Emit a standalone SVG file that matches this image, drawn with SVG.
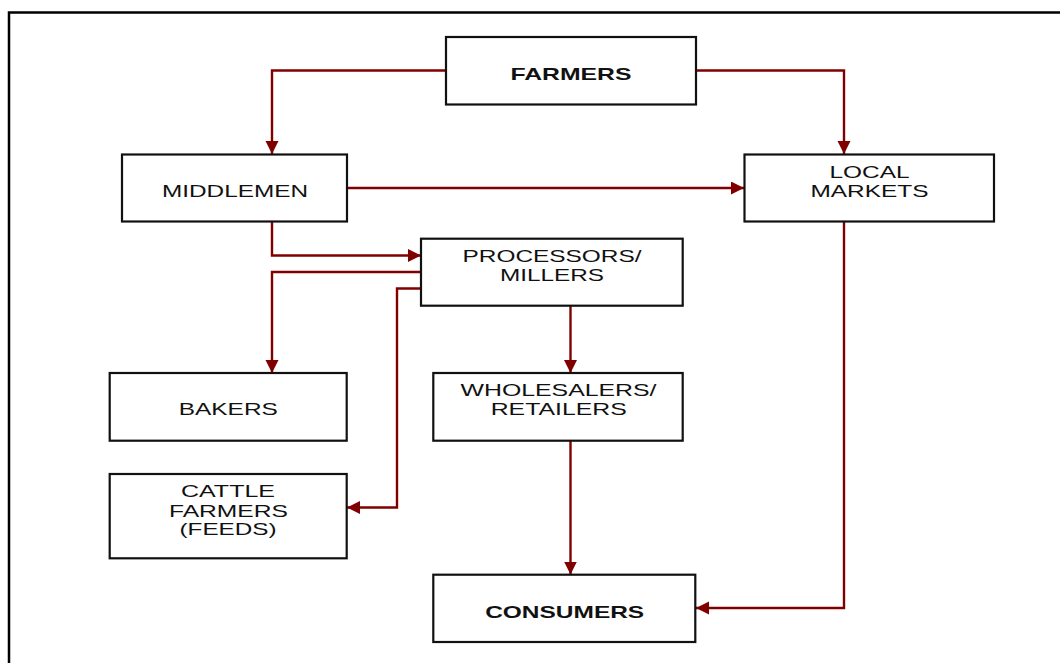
<svg xmlns="http://www.w3.org/2000/svg" width="1060" height="663" viewBox="0 0 1060 663">
  <style>
    .box { fill: #ffffff; stroke: #111111; stroke-width: 2.2; }
    .lbl { font-family: "Liberation Sans", Arial, sans-serif; font-size: 17px; fill: #111111; text-anchor: middle; }
    .bold { font-weight: bold; }
    .flow { fill: none; stroke: #800000; stroke-width: 2.4; stroke-linejoin: miter; }
    .frame { fill: none; stroke: #000000; stroke-width: 2.5; }
  </style>
  <defs>
    <marker id="arrow" markerUnits="userSpaceOnUse" markerWidth="14" markerHeight="14" refX="13" refY="6.5" orient="auto">
      <path d="M0,0 L13,6.5 L0,13 z" fill="#800000"/>
    </marker>
  </defs>

  <rect width="1060" height="663" fill="#ffffff"/>
  <!-- page frame: only the top and left edges fall inside the canvas -->
  <path class="frame" d="M9,663 V12.5 H1060"/>

  <!-- flow lines -->
  <g id="connectors">
    <path class="flow" d="M446,70.5 H272 V154" marker-end="url(#arrow)"/>
    <path class="flow" d="M696,70.5 H844 V154" marker-end="url(#arrow)"/>
    <path class="flow" d="M347,188 H744" stroke-width="2" marker-end="url(#arrow)"/>
    <path class="flow" d="M272,221 V255.5 H421" marker-end="url(#arrow)"/>
    <path class="flow" d="M421,272 H272 V373" marker-end="url(#arrow)"/>
    <path class="flow" d="M421,288.5 H397 V507.5 H347" marker-end="url(#arrow)"/>
    <path class="flow" d="M570.5,306 V373" marker-end="url(#arrow)"/>
    <path class="flow" d="M570.5,441 V574.5" marker-end="url(#arrow)"/>
    <path class="flow" d="M844,221 V608 H696" marker-end="url(#arrow)"/>
  </g>

  <g id="farmers">
    <rect class="box" x="446" y="37" width="250" height="67.5"/>
    <text class="lbl bold" x="571" y="80" textLength="121" lengthAdjust="spacingAndGlyphs">FARMERS</text>
  </g>

  <g id="middlemen">
    <rect class="box" x="122" y="154.5" width="225" height="67"/>
    <text class="lbl" x="235" y="197.3" textLength="146" lengthAdjust="spacingAndGlyphs">MIDDLEMEN</text>
  </g>

  <g id="local-markets">
    <rect class="box" x="744.5" y="154.5" width="249.5" height="67"/>
    <text class="lbl" x="869.5" y="178.3" textLength="80" lengthAdjust="spacingAndGlyphs">LOCAL</text>
    <text class="lbl" x="869.5" y="196.7" textLength="118" lengthAdjust="spacingAndGlyphs">MARKETS</text>
  </g>

  <g id="processors">
    <rect class="box" x="421" y="238.7" width="261.7" height="67"/>
    <text class="lbl" x="552" y="261.7" textLength="179" lengthAdjust="spacingAndGlyphs">PROCESSORS/</text>
    <text class="lbl" x="552" y="280.7" textLength="104" lengthAdjust="spacingAndGlyphs">MILLERS</text>
  </g>

  <g id="bakers">
    <rect class="box" x="109.7" y="373" width="237" height="67.7"/>
    <text class="lbl" x="228.3" y="415" textLength="99" lengthAdjust="spacingAndGlyphs">BAKERS</text>
  </g>

  <g id="wholesalers">
    <rect class="box" x="433.3" y="373" width="249.4" height="67.7"/>
    <text class="lbl" x="558.5" y="396.3" textLength="196" lengthAdjust="spacingAndGlyphs">WHOLESALERS/</text>
    <text class="lbl" x="558.7" y="415" textLength="136" lengthAdjust="spacingAndGlyphs">RETAILERS</text>
  </g>

  <g id="cattle-farmers">
    <rect class="box" x="109.7" y="474" width="237" height="84.3"/>
    <text class="lbl" x="228" y="497" textLength="94" lengthAdjust="spacingAndGlyphs">CATTLE</text>
    <text class="lbl" x="228.5" y="517.3" textLength="119" lengthAdjust="spacingAndGlyphs">FARMERS</text>
    <text class="lbl" x="228" y="535" textLength="97" lengthAdjust="spacingAndGlyphs">(FEEDS)</text>
  </g>

  <g id="consumers">
    <rect class="box" x="433.3" y="574.7" width="262" height="67.3"/>
    <text class="lbl bold" x="564.7" y="617.7" textLength="159" lengthAdjust="spacingAndGlyphs">CONSUMERS</text>
  </g>
</svg>
